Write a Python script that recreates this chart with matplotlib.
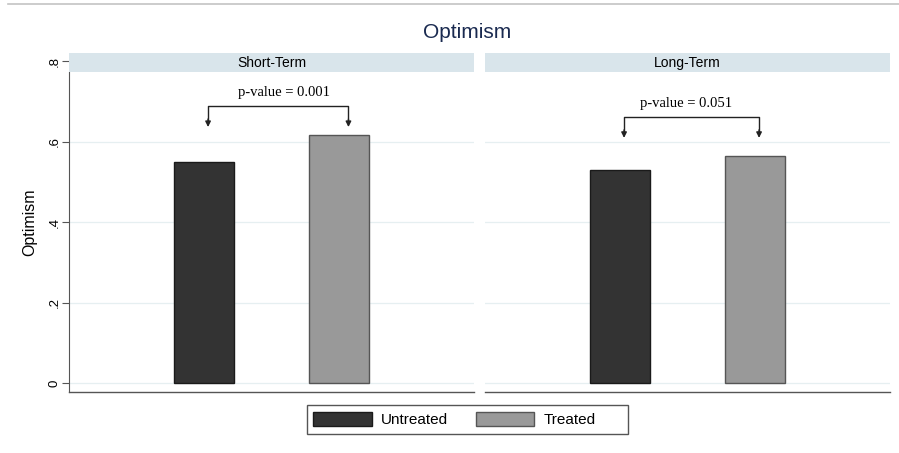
import numpy as np
import matplotlib.pyplot as plt
from matplotlib.patches import Rectangle, Patch
from matplotlib.lines import Line2D

# Datos de la figura
paneles = ["Short-Term", "Long-Term"]
grupos = ["Untreated", "Treated"]
sin_tratar = [0.549, 0.529]
tratados = [0.616, 0.564]
p_valores = ["0.001", "0.051"]
# altura del corchete y punta de las flechas para cada panel
corchete_y = [0.689, 0.662]
flecha_y = [0.636, 0.609]
flecha_x = [[1.03, 2.07], [1.03, 2.03]]
texto_x = [1.59, 1.49]

colores = ["#333333", "#999999"]
bordes = ["#1a1a1a", "#555555"]
yticks = [0, 0.2, 0.4, 0.6, 0.8]
ytick_labels = ["0", ".2", ".4", ".6", ".8"]

Y_MIN, Y_MAX = -0.0224, 0.82
FRANJA = 0.7727  # inicio de la franja con el nombre del panel

fig = plt.figure(figsize=(8.99, 4.53), dpi=100)
fig.patch.set_facecolor("white")

# linea gris superior
fig.add_artist(Line2D([8 / 899, 1], [1 - 4 / 453, 1 - 4 / 453], color="#c4c4c4", lw=1.2))

fig.text(467 / 899, 1 - 33 / 453, "Optimism", ha="center", va="center",
         fontsize=15, color="#1a2a50", family="Liberation Sans")

posiciones = [69 / 899, 485 / 899]
ancho = 405 / 899
abajo = (453 - 392) / 453
alto = 339 / 453

for i, nombre in enumerate(paneles):
    ax = fig.add_axes([posiciones[i], abajo, ancho, alto])
    ax.set_xlim(0, 3)
    ax.set_ylim(Y_MIN, Y_MAX)

    # lineas de grilla
    for t in yticks:
        ax.axhline(t, color="#e6eff1", lw=0.9, zorder=0)

    # barras
    valores = [sin_tratar[i], tratados[i]]
    for j in range(2):
        ax.bar(j + 1, valores[j], width=0.446, color=colores[j],
               edgecolor=bordes[j], linewidth=1.0, zorder=2)

    # franja con el titulo del panel
    ax.add_patch(Rectangle((0, FRANJA), 3, Y_MAX - FRANJA, facecolor="#d9e5eb",
                           edgecolor="none", zorder=3, clip_on=False))
    ax.text(1.5, (FRANJA + Y_MAX) / 2, nombre, ha="center", va="center",
            fontsize=10, family="Liberation Sans", zorder=4)

    # corchete con p-value
    x0, x1 = flecha_x[i]
    ax.plot([x0, x0, x1, x1], [flecha_y[i] + 0.012, corchete_y[i], corchete_y[i], flecha_y[i] + 0.012],
            color="#222222", lw=1.0, zorder=4)
    for xx in (x0, x1):
        ax.annotate("", xy=(xx, flecha_y[i]), xytext=(xx, flecha_y[i] + 0.02),
                    arrowprops=dict(arrowstyle="-|>", color="#222222", lw=1.0,
                                    mutation_scale=8, shrinkA=0, shrinkB=0), zorder=4)
    ax.text(texto_x[i], corchete_y[i] + 0.032, "p-value = " + p_valores[i],
            ha="center", va="center", fontsize=10.5, family="Liberation Serif")

    for lado in ["top", "right"]:
        ax.spines[lado].set_visible(False)
    ax.spines["bottom"].set_color("#555555")
    ax.spines["bottom"].set_linewidth(1.0)
    ax.set_xticks([])

    if i == 0:
        ax.spines["left"].set_bounds(Y_MIN, FRANJA)
        ax.spines["left"].set_color("#555555")
        ax.set_yticks(yticks)
        ax.set_yticklabels(ytick_labels, rotation=90, va="center", fontsize=9.5,
                           family="Liberation Sans")
        ax.tick_params(axis="y", length=5, width=0.8, color="#555555", pad=1)
        ax.set_ylabel("Optimism", fontsize=11.5, family="Liberation Sans", labelpad=8)
    else:
        ax.spines["left"].set_visible(False)
        ax.set_yticks([])

# leyenda: marco dibujado aparte, mas ancho que las entradas
fig.add_artist(Rectangle((307 / 899, 1 - 434 / 453), 321 / 899, 29 / 453,
                         transform=fig.transFigure, facecolor="white",
                         edgecolor="#555555", lw=1.0))
manijas = [Patch(facecolor=colores[j], edgecolor=bordes[j], label=grupos[j]) for j in range(2)]
fig.legend(handles=manijas, loc="center left", bbox_to_anchor=(313 / 899, 1 - 419.5 / 453), ncol=2,
           frameon=False, prop={"family": "Liberation Sans", "size": 11},
           handlelength=3.85, handleheight=1.0, handletextpad=0.6,
           columnspacing=1.8, borderpad=0, borderaxespad=0)

fig.savefig("out.png", dpi=100)
